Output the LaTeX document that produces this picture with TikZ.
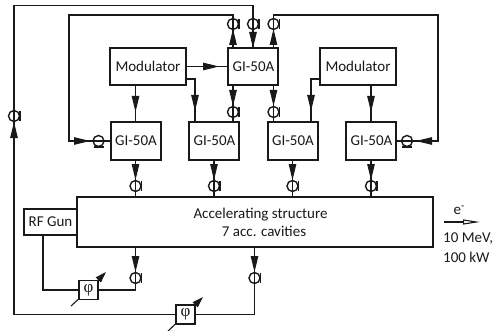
\documentclass[tikz,border=0pt]{standalone}
\usepackage{fontspec}
\setmainfont{Carlito}
\newfontfamily\phifont{Liberation Serif}
\usetikzlibrary{arrows.meta}
\definecolor{ink}{gray}{0.1}
\tikzset{
  thinbox/.style={draw=ink,line width=1.2pt,fill=white,inner sep=0pt,font=\fontsize{15}{17.5}\selectfont,text=ink},
  thickbox/.style={thinbox,line width=2pt},
  phibox/.style={draw=ink,line width=1.3pt,fill=white,inner sep=0pt,minimum width=19pt,minimum height=19pt,font=\fontsize{17}{18}\selectfont\phifont,text=ink},
  wire/.style={draw=ink,line width=1.1pt},
  tip/.style={-{Triangle[length=16pt,width=7.5pt]}},
  lab/.style={font=\fontsize{15}{17}\selectfont,text=ink,inner sep=0pt},
  ring/.style={circle,draw=ink,line width=1.4pt,minimum size=11pt,inner sep=0pt}
}
\newcommand{\ringv}[3]{\node[ring] (#1) at (#2,#3) {};
  \draw[wire] (#2,#3-6) -- (#2,#3+6);
  \draw[wire] (#2+6,#3-5) -- (#2+6,#3+5);}
\newcommand{\ringh}[3]{\node[ring] (#1) at (#2,#3) {};
  \draw[wire] (#2-6,#3) -- (#2+6,#3);
  \draw[wire] (#2-5,#3+6) -- (#2+5,#3+6);}
\begin{document}
\begin{tikzpicture}[x=1pt,y=-1pt]
\useasboundingbox (0,0) rectangle (494,331);
\coordinate (tl) at (14,5.5);
\coordinate (tm) at (253,5.5);
\coordinate (il) at (69,15);
\coordinate (ilt) at (233,15);
\coordinate (ilb) at (69,141);
\coordinate (ir) at (438,15);
\coordinate (irt) at (273.5,15);
\coordinate (irb) at (438,141);
\coordinate (bl) at (14,314.5);
\coordinate (c1) at (135.5,290);
\coordinate (c2) at (254.5,314.5);
\coordinate (g1) at (43,290);
% boxes
\node[thinbox,minimum width=76pt,minimum height=37pt] (m1) at (148,66.5) {Modulator};
\node[thinbox,minimum width=76pt,minimum height=37pt] (m2) at (358,66.5) {Modulator};
\node[thinbox,minimum width=50pt,minimum height=37pt] (g0) at (253,66.5) {\hspace*{1pt}GI-50A};
\node[thickbox,minimum width=50pt,minimum height=37pt] (ga) at (135.5,141) {\hspace*{1pt}GI-50A};
\node[thickbox,minimum width=50pt,minimum height=37pt] (gb) at (214,141) {\hspace*{1pt}GI-50A};
\node[thickbox,minimum width=50pt,minimum height=37pt] (gc) at (292.5,141) {\hspace*{1pt}GI-50A};
\node[thickbox,minimum width=50pt,minimum height=37pt] (gd) at (371,141) {\hspace*{1pt}GI-50A};
\node[thickbox,minimum width=356pt,minimum height=50pt] (acc) at (255,222) {};
\node[lab,align=center,font=\fontsize{15}{17.5}\selectfont] (acct) at (260.5,222.5) {Accelerating structure\\\hspace*{7pt}7 acc. cavities};
\node[thickbox,minimum width=53pt,minimum height=26pt] (rf) at (50.5,222) {RF Gun};
\node[phibox] (p1) at (88.5,290) {φ};
\node[phibox] (p2) at (185.5,314.5) {φ};
% connectors
\draw[wire] (p2.west) -- (bl) -- (tl) -- (tm) -- (g0.north);
\draw[wire] (g0.north -| ilt) -- (ilt) -- (il) -- (ilb) -- (ga.west);
\draw[wire] (g0.north -| irt) -- (irt) -- (ir) -- (irb) -- (gd.east);
\draw[wire] (m1.east) -- (g0.west);
\draw[wire] (ga.north |- m1.south) -- (ga.north);
\draw[wire] (186,79) -- (195,79) -- (195,122);
\draw[wire] (320,79) -- (311,79) -- (311,122);
\draw[wire] (gd.north |- m2.south) -- (gd.north);
\draw[wire] (233,85) -- (233,122);
\draw[wire] (273.5,85) -- (273.5,122);
\draw[wire] (ga.south) -- (acc.north -| ga.south);
\draw[wire] (gb.south) -- (acc.north -| gb.south);
\draw[wire] (gc.south) -- (acc.north -| gc.south);
\draw[wire] (gd.south) -- (acc.north -| gd.south);
\draw[wire] (acc.south -| c1) -- (c1) -- (p1.east);
\draw[wire] (acc.south -| c2) -- (c2) -- (p2.east);
\draw[wire] (rf.south -| g1) -- (g1) -- (p1.west);
% arrowheads
\foreach \a/\b in {{14,136}/{14,122},{233,47}/{233,29},{273.5,47}/{273.5,29},{253,30}/{253,48},
  {203,66.5}/{219,66.5},{135.5,96}/{135.5,112},{195,95}/{195,111},{311,95}/{311,111},{371,96}/{371,112},
  {233,88}/{233,106},{273.5,88}/{273.5,106},{74,141}/{90,141},{432,141}/{416,141},
  {135.5,163}/{135.5,180},{214,163}/{214,180},{292.5,163}/{292.5,180},{371,163}/{371,180},
  {135.5,253}/{135.5,272},{254.5,253}/{254.5,272}}
  \draw[wire,tip] (\a) -- (\b);
% rings
\ringv{r1}{14}{116}
\ringv{r2}{233}{24}
\ringv{r3}{253}{24}
\ringv{r4}{273.5}{24}
\ringv{r5}{233}{112}
\ringv{r6}{273.5}{112}
\ringv{r7}{135.5}{186}
\ringv{r8}{214}{186}
\ringv{r9}{292.5}{186}
\ringv{r10}{371}{186}
\ringv{r11}{135.5}{278}
\ringv{r12}{254.5}{278}
\ringh{r13}{98.5}{141}
\ringh{r14}{407}{141}
% phase shifter arrows
\coordinate (a1s) at (71,306); \coordinate (a1e) at (106,272);
\coordinate (a2s) at (168,331); \coordinate (a2e) at (203,297);
\draw[wire] (a1s) -- (p1.center);
\draw[wire,-{Triangle[length=11pt,width=7pt]}] (p1.center) -- (a1e);
\draw[wire] (a2s) -- (p2.center);
\draw[wire,-{Triangle[length=11pt,width=7pt]}] (p2.center) -- (a2e);
\node[phibox] at (p1) {φ};
\node[phibox] at (p2) {φ};
% beam
\coordinate (e1) at (444,222); \coordinate (e2) at (480,222);
\draw[wire,-{Triangle[length=17pt,width=5pt,open]}] (e1) -- (e2);
\node[lab] (el) at (459,210) {e\raisebox{5pt}{\fontsize{11}{11}\selectfont -}};
\node[lab,anchor=west] (l1) at (443,239) {10 MeV,};
\node[lab,anchor=west] (l2) at (443,257) {100 kW};
\end{tikzpicture}
\end{document}
